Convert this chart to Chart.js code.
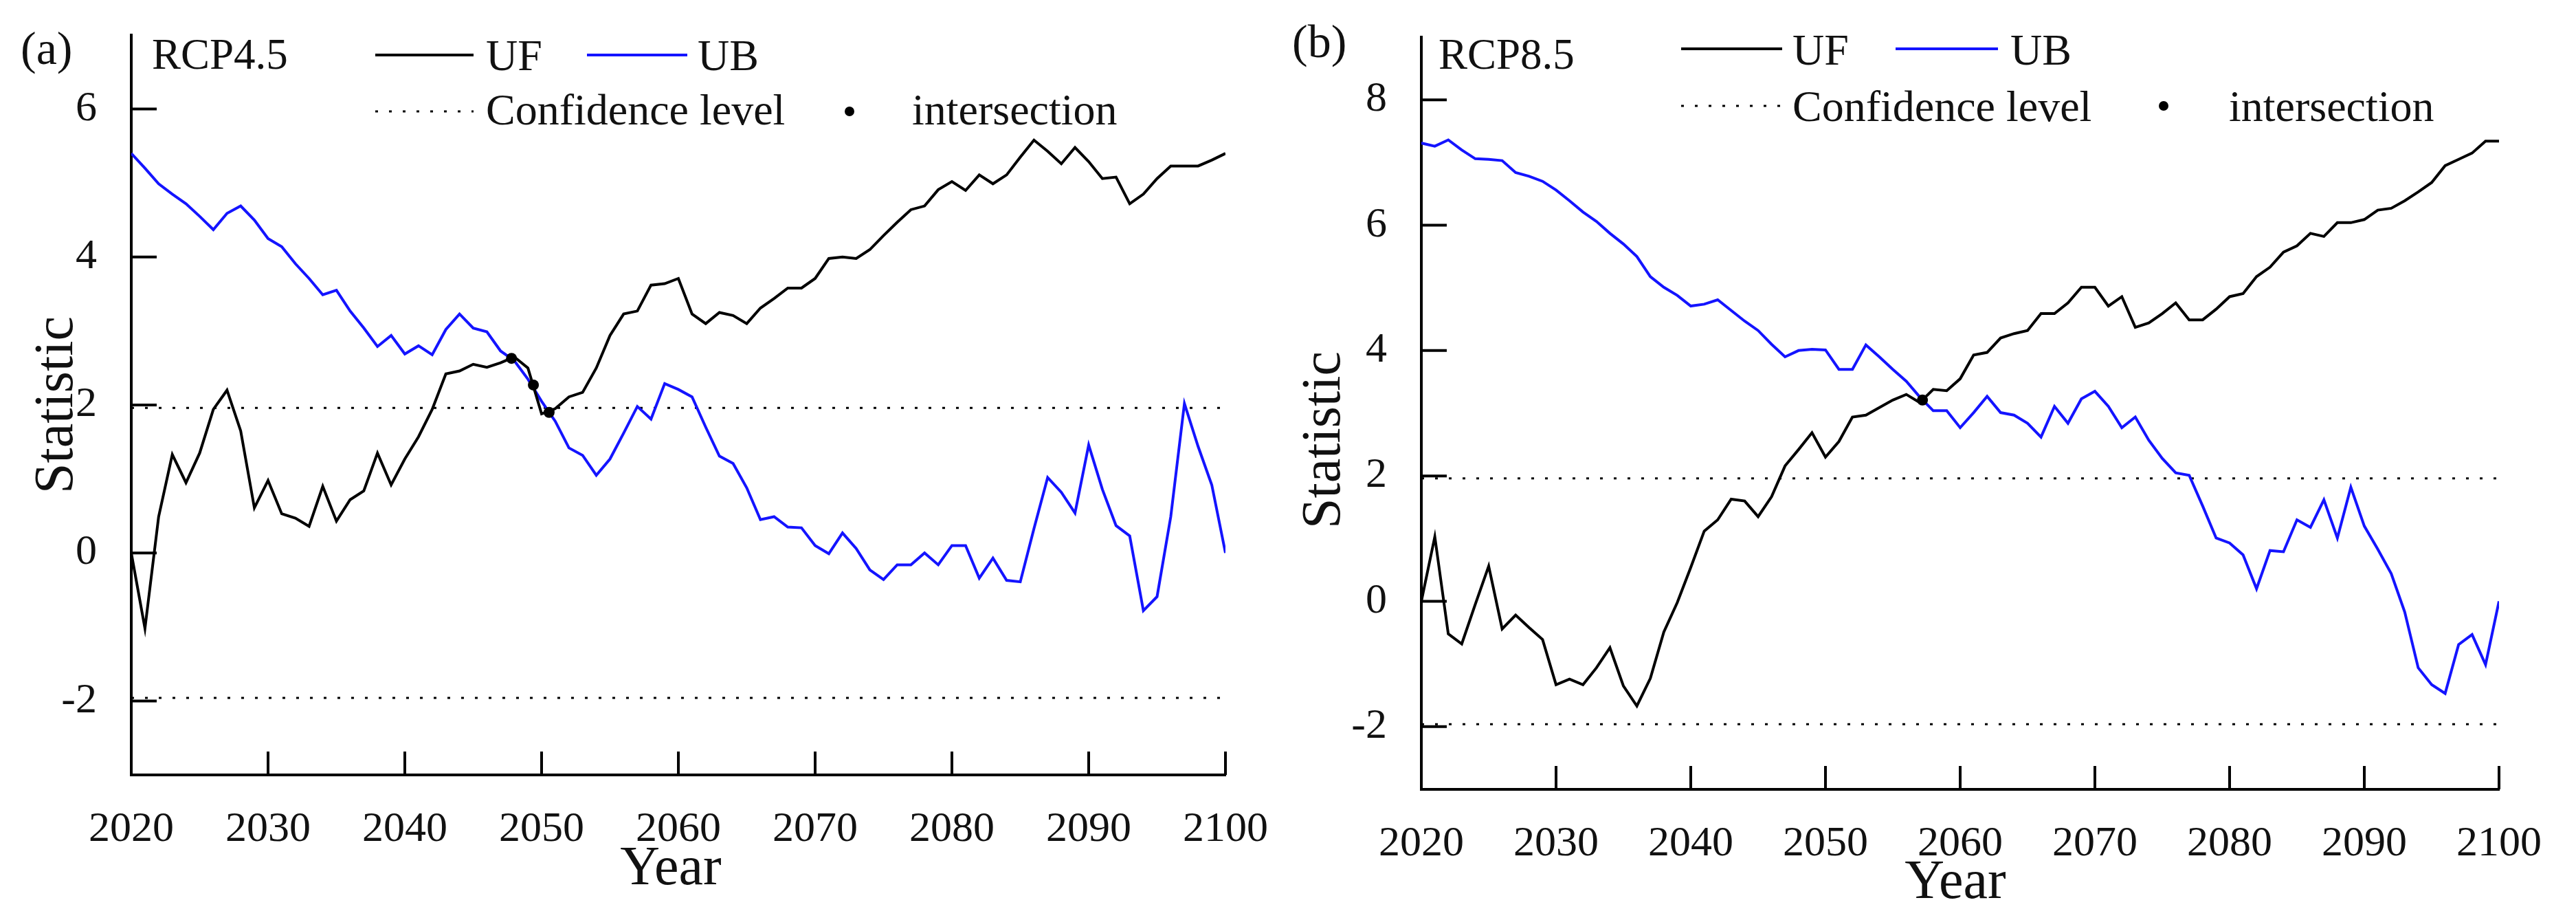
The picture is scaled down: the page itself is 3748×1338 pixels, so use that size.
<!DOCTYPE html>
<html>
<head>
<meta charset="utf-8">
<script src="https://cdn.jsdelivr.net/npm/chart.js@4.4.0/dist/chart.umd.min.js"></script>
<style>
  html, body { margin: 0; padding: 0; background: #fff; }
  #wrap { position: relative; width: 3748px; height: 1338px; }
  canvas { position: absolute; top: 0; }
  #chartA { left: 0; }
  #chartB { left: 1874px; }
</style>
</head>
<body>
<div id="wrap">
  <canvas id="chartA" width="1874" height="1338"></canvas>
  <canvas id="chartB" width="1874" height="1338"></canvas>
</div>
<script>
const years = [
  2020, 2021, 2022, 2023, 2024, 2025, 2026, 2027, 2028, 2029,
  2030, 2031, 2032, 2033, 2034, 2035, 2036, 2037, 2038, 2039,
  2040, 2041, 2042, 2043, 2044, 2045, 2046, 2047, 2048, 2049,
  2050, 2051, 2052, 2053, 2054, 2055, 2056, 2057, 2058, 2059,
  2060, 2061, 2062, 2063, 2064, 2065, 2066, 2067, 2068, 2069,
  2070, 2071, 2072, 2073, 2074, 2075, 2076, 2077, 2078, 2079,
  2080, 2081, 2082, 2083, 2084, 2085, 2086, 2087, 2088, 2089,
  2090, 2091, 2092, 2093, 2094, 2095, 2096, 2097, 2098, 2099, 2100
];
const xTicks = [2020, 2030, 2040, 2050, 2060, 2070, 2080, 2090, 2100];
const yTicksA = [-2, 0, 2, 4, 6];
const yTicksB = [-2, 0, 2, 4, 6, 8];
const confLevel = 1.96;

// (a) RCP4.5
const ufA = [
  0.00, -1.02, 0.49, 1.33, 0.95, 1.35, 1.94, 2.20, 1.65, 0.61,
  0.98, 0.53, 0.47, 0.36, 0.90, 0.43, 0.72, 0.84, 1.35, 0.92,
  1.27, 1.57, 1.94, 2.42, 2.46, 2.55, 2.51, 2.57, 2.65, 2.50,
  1.88, 1.95, 2.11, 2.17, 2.50, 2.94, 3.23, 3.27, 3.62, 3.64,
  3.71, 3.23, 3.10, 3.25, 3.21, 3.10, 3.31, 3.44, 3.58, 3.58,
  3.71, 3.98, 4.00, 3.98, 4.10, 4.29, 4.47, 4.64, 4.69, 4.91,
  5.02, 4.90, 5.11, 4.99, 5.11, 5.35, 5.58, 5.43, 5.26, 5.48,
  5.29, 5.06, 5.08, 4.72, 4.85, 5.06, 5.23, 5.23, 5.23, 5.31, 5.40
];
const ubA = [
  5.40, 5.20, 4.99, 4.85, 4.72, 4.55, 4.37, 4.59, 4.69, 4.50,
  4.25, 4.14, 3.91, 3.71, 3.49, 3.55, 3.27, 3.04, 2.79, 2.94,
  2.69, 2.80, 2.68, 3.02, 3.23, 3.04, 2.99, 2.73, 2.60, 2.35,
  2.05, 1.78, 1.42, 1.32, 1.05, 1.27, 1.62, 1.98, 1.81, 2.29,
  2.21, 2.11, 1.70, 1.31, 1.21, 0.88, 0.45, 0.49, 0.35, 0.34,
  0.10, -0.01, 0.27, 0.06, -0.23, -0.36, -0.16, -0.16, 0.00, -0.16,
  0.10, 0.10, -0.34, -0.07, -0.37, -0.39, 0.33, 1.02, 0.82, 0.54,
  1.46, 0.86, 0.37, 0.23, -0.78, -0.59, 0.49, 2.02, 1.44, 0.92, 0.00
];
const crossYearsA = [2047.8, 2049.4, 2050.55];
const crossValsA = [2.63, 2.27, 1.90];

// (b) RCP8.5
const ufB = [
  0.00, 1.03, -0.52, -0.68, -0.05, 0.56, -0.44, -0.22, -0.42, -0.61,
  -1.33, -1.24, -1.33, -1.06, -0.74, -1.35, -1.67, -1.23, -0.49, -0.02,
  0.54, 1.12, 1.30, 1.63, 1.60, 1.35, 1.67, 2.16, 2.42, 2.69,
  2.30, 2.55, 2.94, 2.97, 3.09, 3.21, 3.30, 3.17, 3.38, 3.36,
  3.55, 3.93, 3.97, 4.20, 4.27, 4.32, 4.59, 4.59, 4.76, 5.01,
  5.01, 4.71, 4.86, 4.37, 4.44, 4.59, 4.76, 4.49, 4.49, 4.66,
  4.86, 4.91, 5.18, 5.33, 5.57, 5.67, 5.87, 5.82, 6.04, 6.04,
  6.09, 6.24, 6.27, 6.39, 6.53, 6.68, 6.95, 7.05, 7.15, 7.34, 7.34
];
const ubB = [
  7.31, 7.26, 7.36, 7.20, 7.06, 7.05, 7.03, 6.84, 6.78, 6.70,
  6.56, 6.39, 6.21, 6.06, 5.87, 5.70, 5.50, 5.18, 5.01, 4.88,
  4.71, 4.74, 4.81, 4.64, 4.47, 4.32, 4.10, 3.90, 4.00, 4.02,
  4.01, 3.70, 3.70, 4.09, 3.90, 3.70, 3.51, 3.26, 3.04, 3.04,
  2.77, 3.01, 3.27, 3.01, 2.97, 2.84, 2.62, 3.11, 2.84, 3.23,
  3.35, 3.11, 2.77, 2.94, 2.57, 2.28, 2.05, 2.01, 1.52, 1.01,
  0.93, 0.74, 0.20, 0.81, 0.79, 1.30, 1.18, 1.62, 1.01, 1.82,
  1.20, 0.83, 0.44, -0.17, -1.06, -1.33, -1.47, -0.69, -0.53, -1.01, 0.00
];
const crossYearsB = [2057.2];
const crossValsB = [3.21];

const SERIF = '"Liberation Serif", "Times New Roman", serif';
const INK = '#111';
const BLUE = '#1414ff';

function pts(xs, ys) {
  return xs.map((x, i) => ({ x: x, y: ys[i] }));
}

// panel labels, legend, axis titles and inward tick marks
function makeDeco(d) {
  return {
    id: 'deco',
    afterDraw(chart) {
      const ctx = chart.ctx;
      const area = chart.chartArea;
      const xs = chart.scales.x, ys = chart.scales.y;
      ctx.save();
      ctx.strokeStyle = '#000';
      ctx.lineWidth = 4;
      ctx.beginPath();
      ys.ticks.forEach(t => {
        const y = ys.getPixelForValue(t.value);
        ctx.moveTo(area.left, y);
        ctx.lineTo(area.left + 37, y);
      });
      xs.ticks.forEach(t => {
        const x = xs.getPixelForValue(t.value);
        ctx.moveTo(x, area.bottom);
        ctx.lineTo(x, area.bottom - 34);
      });
      ctx.stroke();

      ctx.fillStyle = INK;
      ctx.textBaseline = 'alphabetic';
      ctx.textAlign = 'left';
      ctx.font = '68px ' + SERIF;
      ctx.fillText(d.panel, d.panelX, d.panelY);
      ctx.font = '63px ' + SERIF;
      ctx.fillText(d.scenario, d.scenX, d.scenY);

      // legend
      const L = d.leg;
      ctx.font = '64px ' + SERIF;
      ctx.lineWidth = 4;
      ctx.strokeStyle = '#000';
      ctx.beginPath(); ctx.moveTo(L.x1, L.row1); ctx.lineTo(L.x2, L.row1); ctx.stroke();
      ctx.fillText('UF', L.t1, L.base1);
      ctx.strokeStyle = BLUE;
      ctx.beginPath(); ctx.moveTo(L.x3, L.row1); ctx.lineTo(L.x4, L.row1); ctx.stroke();
      ctx.fillText('UB', L.t2, L.base1);
      ctx.strokeStyle = '#000';
      ctx.lineWidth = 3;
      ctx.setLineDash([4, 16]);
      ctx.beginPath(); ctx.moveTo(L.x1, L.row2); ctx.lineTo(L.x2, L.row2); ctx.stroke();
      ctx.setLineDash([]);
      ctx.fillText('Confidence level', L.t1, L.base2);
      ctx.fillStyle = '#000';
      ctx.beginPath(); ctx.arc(L.dot, L.row2, 7, 0, Math.PI * 2); ctx.fill();
      ctx.fillStyle = INK;
      ctx.fillText('intersection', L.t3, L.base2);

      // axis titles
      ctx.font = '80px ' + SERIF;
      ctx.textAlign = 'center';
      ctx.fillText('Year', d.yearX, d.yearY);
      ctx.translate(d.statX, d.statY);
      ctx.rotate(-Math.PI / 2);
      ctx.fillText('Statistic', 0, 0);
      ctx.restore();
    }
  };
}

// keep the plot area exactly where it sits in the figure
function noLabelPadding(s) {
  s.paddingTop = 0;
  s.paddingBottom = 0;
  s.paddingLeft = 0;
  s.paddingRight = 0;
}

function buildChart(id, o) {
  const canvas = document.getElementById(id);
  const W = canvas.width, H = canvas.height;
  return new Chart(canvas, {
    type: 'line',
    data: {
      datasets: [
        {
          label: 'intersection',
          data: pts(o.crossX, o.crossY),
          showLine: false,
          pointRadius: 8,
          pointBackgroundColor: '#000',
          pointBorderWidth: 0,
          order: 0
        },
        {
          label: 'UF',
          data: pts(years, o.uf),
          borderColor: '#000',
          borderWidth: 4,
          pointRadius: 0,
          tension: 0,
          order: 1
        },
        {
          label: 'UB',
          data: pts(years, o.ub),
          borderColor: BLUE,
          borderWidth: 4,
          pointRadius: 0,
          tension: 0,
          order: 2
        },
        {
          label: 'Confidence level',
          data: pts([years[0], years[years.length - 1]], [confLevel, confLevel]),
          borderColor: '#000',
          borderWidth: 3,
          borderDash: [4, 16],
          pointRadius: 0,
          order: 3
        },
        {
          label: 'Confidence level (lower)',
          data: pts([years[0], years[years.length - 1]], [-confLevel, -confLevel]),
          borderColor: '#000',
          borderWidth: 3,
          borderDash: [4, 16],
          pointRadius: 0,
          order: 3
        }
      ]
    },
    options: {
      responsive: false,
      animation: false,
      devicePixelRatio: 1,
      layout: { padding: { left: 0, top: o.area.top, right: W - o.area.right, bottom: 0 } },
      plugins: { legend: { display: false }, tooltip: { enabled: false } },
      scales: {
        x: {
          type: 'linear',
          min: 2020,
          max: 2100,
          afterBuildTicks: s => { s.ticks = xTicks.map(v => ({ value: v })); },
          afterFit: s => { s.height = H - o.area.bottom; noLabelPadding(s); },
          grid: { display: false },
          border: { display: true, color: '#000', width: 4 },
          ticks: {
            padding: 35,
            color: INK,
            font: { family: SERIF, size: 62 },
            callback: v => String(v)
          }
        },
        y: {
          min: o.yMin,
          max: o.yMax,
          afterBuildTicks: s => { s.ticks = o.yTicks.map(v => ({ value: v })); },
          afterFit: s => { s.width = o.area.left; noLabelPadding(s); },
          grid: { display: false },
          border: { display: true, color: '#000', width: 4 },
          ticks: {
            padding: 42,
            color: INK,
            font: { family: SERIF, size: 62 },
            callback: v => String(v)
          }
        }
      }
    },
    plugins: [makeDeco(o.deco)]
  });
}

buildChart('chartA', {
  uf: ufA, ub: ubA, crossX: crossYearsA, crossY: crossValsA,
  yTicks: yTicksA, yMin: -3, yMax: 7,
  area: { left: 191, right: 1783, top: 51, bottom: 1127 },
  deco: {
    panel: '(a)', panelX: 30, panelY: 93,
    scenario: 'RCP4.5', scenX: 221, scenY: 100,
    leg: { x1: 546, x2: 689, x3: 854, x4: 1000, t1: 707, t2: 1015, t3: 1327, dot: 1236,
           row1: 80, base1: 102, row2: 162, base2: 181 },
    yearX: 976, yearY: 1286, statX: 105, statY: 589
  }
});

buildChart('chartB', {
  uf: ufB, ub: ubB, crossX: crossYearsB, crossY: crossValsB,
  yTicks: yTicksB, yMin: -3, yMax: 9,
  area: { left: 194, right: 1762, top: 54, bottom: 1148 },
  deco: {
    panel: '(b)', panelX: 6, panelY: 83,
    scenario: 'RCP8.5', scenX: 219, scenY: 100,
    leg: { x1: 572, x2: 719, x3: 884, x4: 1033, t1: 734, t2: 1051, t3: 1369, dot: 1274,
           row1: 71, base1: 94, row2: 154, base2: 176 },
    yearX: 971, yearY: 1306, statX: 75, statY: 640
  }
});
</script>
</body>
</html>
